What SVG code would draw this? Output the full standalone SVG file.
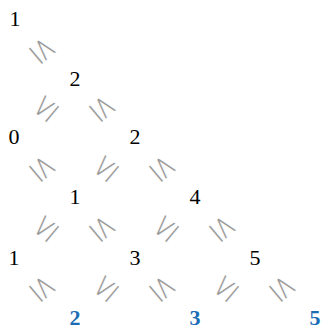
<svg xmlns="http://www.w3.org/2000/svg" width="323" height="328" viewBox="0 0 323 328">
<style>
.n{font-family:"Liberation Serif","DejaVu Serif",serif;font-size:22px;fill:#000;text-anchor:middle;dominant-baseline:central}
.b{fill:#1a6db5;font-weight:bold}
.s{font-family:"DejaVu Sans",sans-serif;font-size:34px;fill:#9a9a9a;stroke:#fff;stroke-width:1.1px;text-anchor:middle;dominant-baseline:central}
</style>
<rect width="323" height="328" fill="#fff"/>
<g id="connectors">
<text class="s" transform="translate(44,49) rotate(50)">≤</text>
<text class="s" transform="translate(44,107) rotate(-50)">≤</text>
<text class="s" transform="translate(104,107) rotate(50)">≤</text>
<text class="s" transform="translate(44,167) rotate(50)">≤</text>
<text class="s" transform="translate(104,167) rotate(-50)">≤</text>
<text class="s" transform="translate(164,167) rotate(50)">≤</text>
<text class="s" transform="translate(44,227) rotate(-50)">≤</text>
<text class="s" transform="translate(104,227) rotate(50)">≤</text>
<text class="s" transform="translate(164,227) rotate(-50)">≤</text>
<text class="s" transform="translate(224,227) rotate(50)">≤</text>
<text class="s" transform="translate(44,287) rotate(50)">≤</text>
<text class="s" transform="translate(104,287) rotate(-50)">≤</text>
<text class="s" transform="translate(164,287) rotate(50)">≤</text>
<text class="s" transform="translate(224,287) rotate(-50)">≤</text>
<text class="s" transform="translate(284,287) rotate(50)">≤</text>
</g>
<g id="r0c0"><text class="n" x="15" y="18">1</text></g>
<g id="r1c1"><text class="n" x="75" y="78">2</text></g>
<g id="r2c0"><text class="n" x="14" y="136">0</text></g>
<g id="r2c2"><text class="n" x="135" y="136">2</text></g>
<g id="r3c1"><text class="n" x="75" y="196">1</text></g>
<g id="r3c3"><text class="n" x="195" y="196">4</text></g>
<g id="r4c0"><text class="n" x="14" y="257">1</text></g>
<g id="r4c2"><text class="n" x="135" y="257">3</text></g>
<g id="r4c4"><text class="n" x="255" y="257">5</text></g>
<g id="r5c1"><text class="n b" x="75" y="317">2</text></g>
<g id="r5c3"><text class="n b" x="195" y="317">3</text></g>
<g id="r5c5"><text class="n b" x="315" y="317">5</text></g>
</svg>
